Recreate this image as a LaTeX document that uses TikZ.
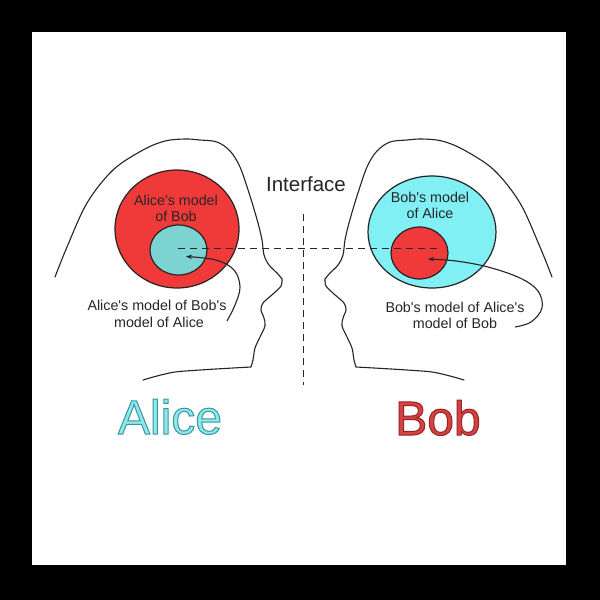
\documentclass[tikz,border=0pt]{standalone}
\usepackage{fontspec}
\setmainfont{Liberation Sans}
\usetikzlibrary{arrows.meta}
\definecolor{myred}{RGB}{240,58,58}
\definecolor{tealin}{RGB}{125,210,210}
\definecolor{cyanout}{RGB}{128,240,245}
\definecolor{ink}{RGB}{40,35,35}
\definecolor{alicefill}{RGB}{140,232,236}
\definecolor{bobfill}{RGB}{214,66,66}
% outlined text: fill colour from \color, stroke colour given as r g b (0..1)
\newcommand{\outlinetext}[3]{{\color{#1}\special{pdf:code 2 Tr 1.0 w #2 RG}#3\special{pdf:code 0 Tr}}}
\newcommand{\ap}{\textquotesingle}
\newcommand{\headpath}{%
  plot[smooth, tension=0.55] coordinates {(55,277) (67,247) (87,203) (113,170) (143,150) (165,141) (185,139) (200,140) (217,142) (230,151) (240,167) (250,196) (258,223) (262,240) (264,255) (269,265) (277,273) (282,279)}
  plot[smooth, tension=0.5] coordinates {(282,279) (281,286) (273,294) (263,303) (261,310) (264,318) (265,326) (260,337) (255,348) (253,360) (251,367)}
  plot[smooth, tension=0.5] coordinates {(251,367) (233,368) (200,370) (175,372) (157,376) (143,380)}%
}
\tikzset{
  headline/.style={draw=ink, line width=1.1pt, line join=round, line cap=round},
  blob/.style={draw=ink, line width=1.2pt},
  lbl/.style={anchor=base, inner sep=0pt, text=black!85, font=\fontsize{14.3}{16}\selectfont},
  dashline/.style={draw=black!85, line width=1.4pt, dash pattern=on 7pt off 5pt},
  arr/.style={draw=ink, line width=1.1pt, -{Stealth[length=6pt,width=4.5pt]}},
  bigname/.style={anchor=base, inner sep=0pt, font=\fontsize{48}{50}\selectfont}
}
\begin{document}
\begin{tikzpicture}[x=1pt, y=-1pt]
\useasboundingbox (0,0) rectangle (600,600);
\fill[black] (0,0) rectangle (600,600);
\fill[white] (32,32) rectangle (566,565);

% heads
\draw[headline] \headpath;
\begin{scope}[shift={(607,0)}, xscale=-1]
\draw[headline] \headpath;
\end{scope}

% Alice's models
\draw[blob, fill=myred] (177,229) ellipse [x radius=62, y radius=59];
\draw[blob, fill=tealin] (178.5,250) ellipse [x radius=28.5, y radius=25];
% Bob's models
\draw[blob, fill=cyanout] (432,232) ellipse [x radius=64, y radius=56];
\draw[blob, fill=myred] (419.5,253) ellipse [x radius=28.5, y radius=26];

% circle labels
\node[lbl] (am1) at (176,205.5) {Alice\ap s model};
\node[lbl] (am2) at (176,221.5) {of Bob};
\node[lbl] (bm1) at (430,202) {Bob\ap s model};
\node[lbl] (bm2) at (430,218.5) {of Alice};

% interface
\node[anchor=base, inner sep=0pt, text=black!85, font=\fontsize{20.5}{22}\selectfont] (iface) at (306,191.5) {Interface};

% dashed lines
\coordinate (dl) at (178,248.3);
\coordinate (dr) at (437,248.3);
\coordinate (vt) at (303.3,214);
\coordinate (vb) at (303.3,385);
\draw[dashline] (dl) -- (dr);
\draw[dashline] (vt) -- (vb);

% lower labels
\node[lbl] (al1) at (157,310.7) {Alice\ap s model of Bob\ap s};
\node[lbl] (al2) at (159,327.3) {model of Alice};
\node[lbl] (bl1) at (455,312) {Bob\ap s model of Alice\ap s};
\node[lbl] (bl2) at (455,328) {model of Bob};

% arrows
\coordinate (aend) at (227,321);
\coordinate (atip) at (186,256.5);
\coordinate (bend) at (515,327);
\coordinate (btip) at (428,259);
\draw[arr] plot[smooth, tension=0.6] coordinates {(aend) (235,305) (240,287) (234,270) (216,260) (atip)};
\draw[arr] plot[smooth, tension=0.6] coordinates {(bend) (531,322) (542,308) (538,291) (520,278) (488,267) (456,261) (btip)};

% names
\node[bigname] (alice) at (170,434) {\outlinetext{alicefill}{0.22 0.59 0.61}{Alice}};
\node[bigname] (bob) at (438,435) {\outlinetext{bobfill}{0.59 0.14 0.14}{Bob}};
\end{tikzpicture}
\end{document}
